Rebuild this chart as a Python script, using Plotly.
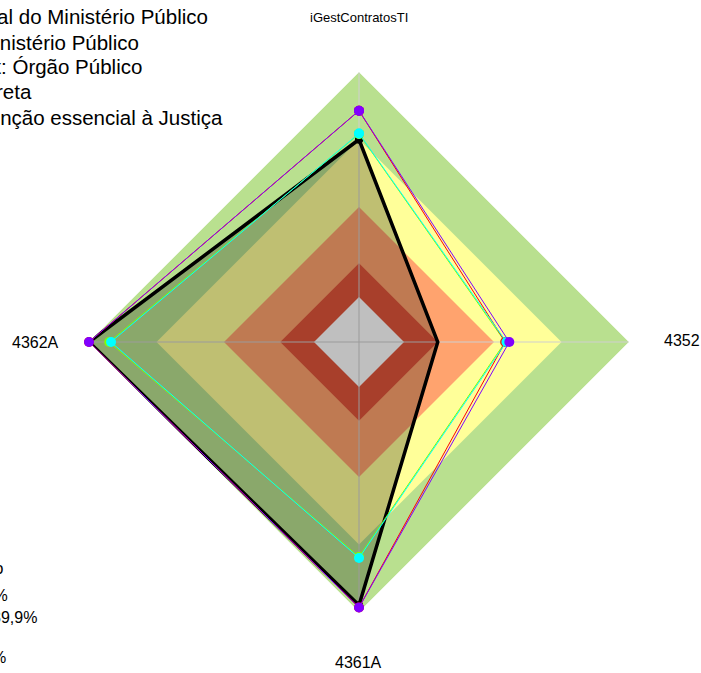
import plotly.graph_objects as go

# ---------------- data ----------------
categories = ["iGestContratosTI", "4352", "4361A", "4362A"]

band_limits = [100, 70, 40, 15, 0]
band_colors = ["#b9e08f", "#ffff99", "#ffa36e", "#e0553a", "#ffffff"]

series_names = [
    "Conselho Nacional do Ministério Público",
    "Média: Ministério Público",
    "Segment: Órgão Público",
    "Média: Administração Direta",
    "Média: Função essencial à Justiça",
]
serie_org = [70, 15, 97, 100]
serie_mp = [82.8, 46.8, 98, 100]
serie_orgao = [82.8, 45, 98, 100]
serie_adm = [72.5, 45, 75.5, 91]
serie_fej = [72.7, 45.5, 76, 90.2]

legend_lines = series_names
band_legend = [
    "Faixas de classificação",
    "Inexpressivo: menor que 15%",
    "Iniciando: de 15% a 39,9%",
    "Intermediário: 40% a 70%",
    "Aprimorado: 70% a 100%",
]

# ---------------- geometry helpers ----------------
W, H = 701, 673


def px(x):
    return x / W


def py(y):
    return 1 - y / H


cx, cy, R = 359, 342, 270

fig = go.Figure()

closed = categories + [categories[0]]

for lim, col in zip(band_limits, band_colors):
    fig.add_trace(go.Scatterpolar(
        r=[lim] * 5, theta=closed, mode="lines", fill="toself",
        fillcolor=col, line=dict(width=0, color=col), hoverinfo="skip",
        showlegend=False))

# spokes
sr, st = [], []
for c in categories:
    sr += [-20, 100, None]
    st += [c, c, None]
fig.add_trace(go.Scatterpolar(r=sr, theta=st, mode="lines",
                              line=dict(color="#cfcfcf", width=1),
                              hoverinfo="skip", showlegend=False))


def close(v):
    return list(v) + [v[0]]


# organisation (black, filled)
fig.add_trace(go.Scatterpolar(
    r=close(serie_org), theta=closed, mode="lines+markers", name=series_names[0],
    fill="toself", fillcolor="rgba(0,0,0,0.25)",
    line=dict(color="black", width=3.5), marker=dict(color="black", size=8)))

fig.add_trace(go.Scatterpolar(
    r=close(serie_adm), theta=closed, mode="lines+markers", name=series_names[3],
    line=dict(color="#80ff00", width=1), marker=dict(color="#80ff00", size=10)))
fig.add_trace(go.Scatterpolar(
    r=close(serie_orgao), theta=closed, mode="lines+markers", name=series_names[2],
    line=dict(color="#ff0000", width=1), marker=dict(color="#ff0000", size=10)))
fig.add_trace(go.Scatterpolar(
    r=close(serie_fej), theta=closed, mode="lines+markers", name=series_names[4],
    line=dict(color="#00ffff", width=1), marker=dict(color="#00ffff", size=10)))
fig.add_trace(go.Scatterpolar(
    r=close(serie_mp), theta=closed, mode="lines+markers", name=series_names[1],
    line=dict(color="#8000ff", width=1), marker=dict(color="#8000ff", size=10)))

annotations = []
# axis labels
annotations.append(dict(text=categories[0], x=px(359), y=py(17), xanchor="center", yanchor="middle", font=dict(size=13)))
annotations.append(dict(text=categories[1], x=px(663), y=py(340), xanchor="left", yanchor="middle", font=dict(size=16)))
annotations.append(dict(text=categories[2], x=px(358), y=py(662), xanchor="center", yanchor="middle", font=dict(size=16)))
annotations.append(dict(text=categories[3], x=px(60), y=py(342), xanchor="right", yanchor="middle", font=dict(size=16)))

# legend of series (top-left)
leg_right = [209, 140, 143, 33, 224]
leg_y = [16, 42, 67, 92, 117]
for t, xr, yy in zip(legend_lines, leg_right, leg_y):
    annotations.append(dict(text=t, x=px(xr), y=py(yy), xanchor="right", yanchor="middle", font=dict(size=20.5)))

# legend of bands (bottom-left)
bl_right = [5, 9, 38, -4, 7]
bl_y = [568, 595, 617, 637, 657]
for t, xr, yy in zip(band_legend, bl_right, bl_y):
    annotations.append(dict(text=t, x=px(xr), y=py(yy), xanchor="right", yanchor="middle", font=dict(size=16)))

for a in annotations:
    a.update(xref="paper", yref="paper", showarrow=False, borderpad=0)

fig.update_layout(
    width=W, height=H,
    margin=dict(l=0, r=0, t=0, b=0, autoexpand=False),
    paper_bgcolor="white",
    showlegend=False,
    font=dict(family="Liberation Sans, Arial, sans-serif", color="black"),
    annotations=annotations,
    polar=dict(
        domain=dict(x=[px(cx - R), px(cx + R)], y=[py(cy + R), py(cy - R)]),
        bgcolor="rgba(0,0,0,0)",
        gridshape="linear",
        angularaxis=dict(type="category", categoryarray=categories, rotation=90,
                         direction="clockwise", showgrid=False, showline=False,
                         showticklabels=False, ticks=""),
        radialaxis=dict(range=[-20, 100], visible=False, showgrid=False),
    ),
)

fig.write_html("out.html", config={"displayModeBar": False},
               post_script="document.body.style.margin='0px';")
